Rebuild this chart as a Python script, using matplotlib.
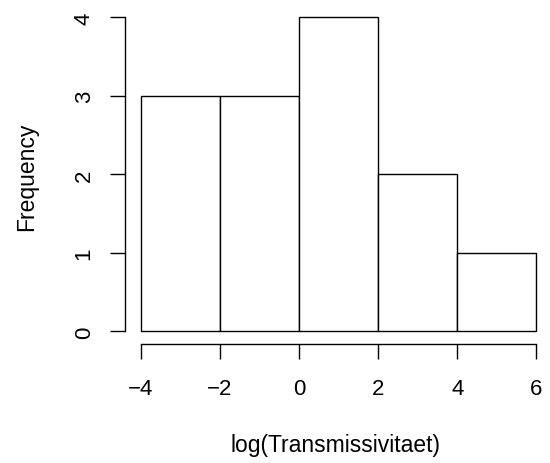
import matplotlib
matplotlib.use("Agg")
import matplotlib.pyplot as plt

bin_edges = [-4, -2, 0, 2, 4, 6]
counts = [3, 3, 4, 2, 1]
x_ticks = [-4, -2, 0, 2, 4, 6]
y_ticks = [0, 1, 2, 3, 4]
xlabel = "log(Transmissivitaet)"
ylabel = "Frequency"

plt.rcParams['font.family'] = ['Liberation Sans', 'DejaVu Sans']
fs_tick = 16
fs_lab = 16.5
lw = 1.0

fig = plt.figure(figsize=(5.5, 4.64), dpi=100)
ax = fig.add_axes([125/550, (464-345)/464, 427.1/550, 339.1/464])
ax.set_xlim(-4.4, 6.4)
ax.set_ylim(-0.16, 4.16)

lefts = bin_edges[:-1]
widths = [b - a for a, b in zip(bin_edges[:-1], bin_edges[1:])]
ax.bar(lefts, counts, width=widths, align='edge', color='white',
       edgecolor='black', linewidth=lw)

for s in ['top', 'right']:
    ax.spines[s].set_visible(False)
ax.spines['left'].set_bounds(y_ticks[0], y_ticks[-1])
ax.spines['bottom'].set_bounds(x_ticks[0], x_ticks[-1])
ax.spines['left'].set_linewidth(lw)
ax.spines['bottom'].set_linewidth(lw)

ax.set_xticks(x_ticks)
ax.set_xticklabels([str(v).replace('-', '\u2212') for v in x_ticks], fontsize=fs_tick)
ax.set_yticks(y_ticks)
ax.set_yticklabels([str(v) for v in y_ticks], fontsize=fs_tick, rotation=90, va='center')
ax.tick_params(axis='both', length=10.8, width=lw, direction='out')
ax.tick_params(axis='x', pad=13.5)
ax.tick_params(axis='y', pad=11)

fig.text(336/550, 1 - 446/464, xlabel, fontsize=fs_lab, ha='center', va='center')
fig.text(27/550, 1 - 177/464, ylabel, fontsize=fs_lab, ha='center', va='center', rotation=90)

fig.savefig("out.png", dpi=100)
